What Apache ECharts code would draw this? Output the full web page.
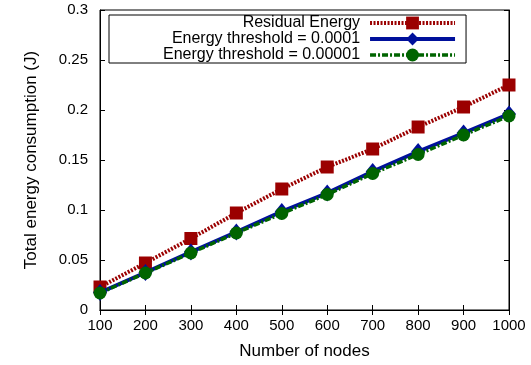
<!DOCTYPE html>
<html>
<head>
<meta charset="utf-8">
<script src="https://cdn.jsdelivr.net/npm/echarts@6/dist/echarts.min.js"></script>
<style>
  html, body { margin: 0; padding: 0; background: #fff; }
  #myChart { width: 531px; height: 365px; }
</style>
</head>
<body>
<div id="myChart"></div>
<script>
// 节点数
var nodes = [100, 200, 300, 400, 500, 600, 700, 800, 900, 1000]
// 能耗数据 (J)
var residualEnergy = [0.023, 0.047, 0.0715, 0.097, 0.121, 0.143, 0.161, 0.183, 0.203, 0.225]
var threshold1e4 = [0.0175, 0.0375, 0.058, 0.078, 0.0985, 0.117, 0.1385, 0.1585, 0.177, 0.196]
var threshold1e5 = [0.017, 0.037, 0.057, 0.077, 0.0965, 0.1155, 0.1365, 0.1555, 0.175, 0.194]
var seriesNames = ['Residual Energy', 'Energy threshold = 0.0001', 'Energy threshold = 0.00001']

function pairs (ys) {
    return nodes.map(function (x, i) { return [x, ys[i]] })
}

var font = 'Liberation Sans, Arial, sans-serif'
var myChart = echarts.init(document.getElementById('myChart'))

var tickStyle = { inside: true, length: 5, lineStyle: { color: '#000', width: 1 } }

myChart.setOption({
    animation: false,
    grid: {
        left: 100,
        right: 22,
        top: 10,
        bottom: 54,
        show: true,
        borderColor: '#000',
        borderWidth: 1
    },
    legend: {
        left: 109,
        top: 15,
        orient: 'vertical',
        align: 'right',
        itemGap: 0,
        itemWidth: 85,
        itemHeight: 16,
        padding: [0, 9, 0, 54],
        borderColor: '#000',
        borderWidth: 1,
        backgroundColor: '#fff',
        lineStyle: { width: 'inherit' },
        textStyle: { fontFamily: font, fontSize: 16, lineHeight: 16, color: '#000', padding: [0, 5, 0, 0] },
        data: seriesNames
    },
    xAxis: [{
        type: 'value',
        min: 100,
        max: 1000,
        interval: 100,
        name: 'Number of nodes',
        nameLocation: 'middle',
        nameGap: 33,
        nameTextStyle: { fontFamily: font, fontSize: 17, color: '#000' },
        axisLine: { lineStyle: { color: '#000' } },
        axisTick: tickStyle,
        axisLabel: {
            fontFamily: font, fontSize: 15, color: '#000', margin: 8,
            formatter: function (v) { return String(v) }
        },
        splitLine: { show: false }
    }, {
        type: 'value',
        position: 'top',
        min: 100,
        max: 1000,
        interval: 100,
        axisLine: { lineStyle: { color: '#000' } },
        axisTick: tickStyle,
        axisLabel: { show: false },
        splitLine: { show: false }
    }],
    yAxis: [{
        type: 'value',
        min: 0,
        max: 0.3,
        interval: 0.05,
        name: 'Total energy consumption (J)',
        nameLocation: 'middle',
        nameGap: 60,
        nameTextStyle: { fontFamily: font, fontSize: 17, color: '#000' },
        axisLine: { show: true, lineStyle: { color: '#000' } },
        axisTick: tickStyle,
        axisLabel: { fontFamily: font, fontSize: 15, color: '#000', margin: 12 },
        splitLine: { show: false }
    }, {
        type: 'value',
        position: 'right',
        min: 0,
        max: 0.3,
        interval: 0.05,
        axisLine: { show: true, lineStyle: { color: '#000' } },
        axisTick: tickStyle,
        axisLabel: { show: false },
        splitLine: { show: false }
    }],
    series: [
        {
            name: seriesNames[0],
            type: 'line',
            data: pairs(residualEnergy),
            symbol: 'rect',
            symbolSize: 13,
            color: '#9b0000',
            lineStyle: { width: 4, type: [2, 1.5], color: '#9b0000' },
            itemStyle: { color: '#9b0000' },
            z: 2
        },
        {
            name: seriesNames[1],
            type: 'line',
            data: pairs(threshold1e4),
            symbol: 'diamond',
            symbolSize: [14, 17],
            color: '#00109b',
            lineStyle: { width: 4, type: 'solid', color: '#00109b' },
            itemStyle: { color: '#00109b' },
            z: 3
        },
        {
            name: seriesNames[2],
            type: 'line',
            data: pairs(threshold1e5),
            symbol: 'circle',
            symbolSize: 13,
            color: '#006400',
            lineStyle: { width: 3.5, type: [6, 2, 2, 2], color: '#006400' },
            itemStyle: { color: '#006400' },
            z: 4
        }
    ]
})
</script>
</body>
</html>
